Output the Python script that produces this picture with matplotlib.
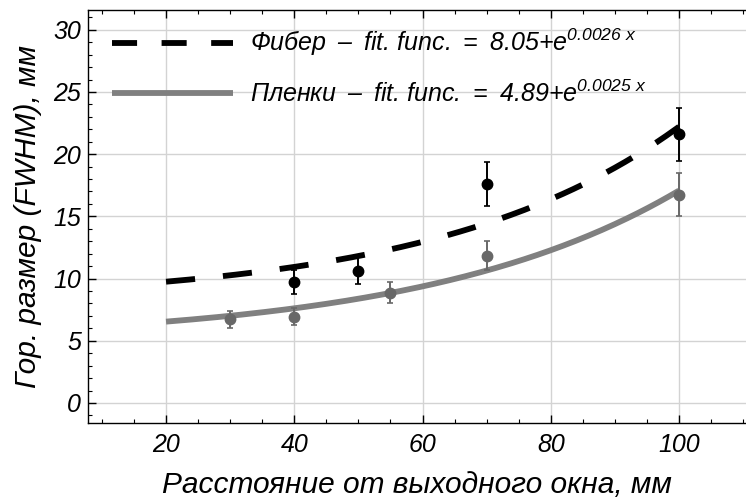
import numpy as np
import matplotlib
matplotlib.use("Agg")
import matplotlib.pyplot as plt
from matplotlib.lines import Line2D
from matplotlib.ticker import MultipleLocator

plt.rcParams['font.family'] = ['Liberation Sans', 'DejaVu Sans']
plt.rcParams['font.style'] = 'italic'
plt.rcParams['mathtext.fontset'] = 'custom'
plt.rcParams['mathtext.rm'] = 'Liberation Sans:italic'
plt.rcParams['mathtext.it'] = 'Liberation Sans:italic'

# Measured beam widths (FWHM) with errors
fiber_x = [40, 50, 70, 100]
fiber_y = [9.70, 10.64, 17.6, 21.6]
fiber_err = [0.95, 1.07, 1.8, 2.15]

film_x = [30, 40, 55, 70, 100]
film_y = [6.73, 6.94, 8.87, 11.84, 16.75]
film_err = [0.67, 0.70, 0.87, 1.15, 1.70]

# Fit curves: offset + exp(rate * x)
fiber_fit = [8.05, 0.0265]
film_fit = [4.89, 0.025]
fit_range = [20, 100]

fiber_label = "Фибер \u2009–\u2009 fit. func. \u2009=\u2009 8.05+e$^{0.0026\\ x}$"
film_label = "Пленки \u2009–\u2009 fit. func. \u2009=\u2009 4.89+e$^{0.0025\\ x}$"

fig = plt.figure(figsize=(7.46, 4.98), dpi=100)
ax = fig.add_axes([88 / 746, 75 / 498, 658 / 746, 413 / 498])

fiber_color = 'black'
film_line_color = '#808080'
film_point_color = '#686868'

xs = np.linspace(fit_range[0], fit_range[1], 200)
ax.plot(xs, fiber_fit[0] + np.exp(fiber_fit[1] * xs), color=fiber_color, lw=4.2,
        dashes=(5.0, 4.8), dash_capstyle='butt', zorder=3)
ax.plot(xs, film_fit[0] + np.exp(film_fit[1] * xs), color=film_line_color, lw=4.2,
        solid_capstyle='butt', zorder=3)

ax.errorbar(fiber_x, fiber_y, yerr=fiber_err, fmt='o', color=fiber_color, ms=7.5,
            elinewidth=1.4, capsize=2.5, capthick=1.2, zorder=4)
ax.errorbar(film_x, film_y, yerr=film_err, fmt='o', color=film_point_color, ms=7.5,
            elinewidth=1.4, capsize=2.5, capthick=1.2, zorder=4)

ax.set_xlim(7.83, 110.45)
ax.set_ylim(-1.61, 31.59)
ax.xaxis.set_major_locator(MultipleLocator(20))
ax.xaxis.set_minor_locator(MultipleLocator(5))
ax.yaxis.set_major_locator(MultipleLocator(5))
ax.yaxis.set_minor_locator(MultipleLocator(1))
ax.grid(True, which='major', color='#d3d3d3', lw=1.0)
ax.set_axisbelow(True)
ax.spines['right'].set_visible(False)
for s in ['left', 'bottom', 'top']:
    ax.spines[s].set_linewidth(1.0)
ax.tick_params(which='both', direction='in', top=True, right=False,
               labelsize=18)
ax.tick_params(axis='x', pad=7)
ax.tick_params(axis='y', pad=5)
ax.tick_params(which='major', length=5.5, width=1)
ax.tick_params(which='minor', length=2.8, width=0.8)

ax.set_xlabel("Расстояние от выходного окна, мм", fontsize=21.5, labelpad=10)
ax.set_ylabel("Гор. размер (FWHM), мм", fontsize=21.5, labelpad=8)

handles = [
    Line2D([], [], color=fiber_color, lw=4.2, dashes=(4.3, 4.2), dash_capstyle='butt'),
    Line2D([], [], color=film_line_color, lw=4.2, solid_capstyle='butt'),
]
ax.legend(handles, [fiber_label, film_label], loc='upper left', frameon=False,
          fontsize=18, handlelength=4.85, handletextpad=0.65, labelspacing=0.87,
          borderpad=0, borderaxespad=0,
          bbox_to_anchor=((112 - 88) / 658, (423 - 27) / 413))

fig.savefig("out.png", dpi=100)
